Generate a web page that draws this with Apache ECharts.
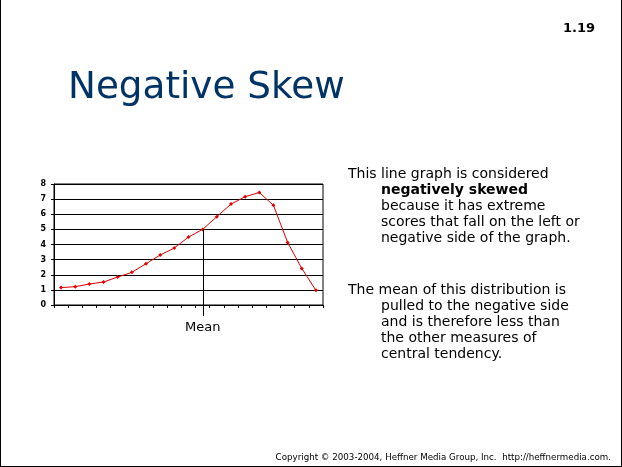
<!DOCTYPE html>
<html>
<head>
<meta charset="utf-8">
<script src="https://cdn.jsdelivr.net/npm/echarts@6/dist/echarts.min.js"></script>
<style>
html,body{margin:0;padding:0;background:#fff;}
#c{width:622px;height:467px;position:absolute;left:0;top:0;}
#frame{position:absolute;left:0;top:0;width:622px;height:467px;box-sizing:border-box;border-left:1px solid #000;border-right:1px solid #000;border-bottom:1px solid #000;pointer-events:none;}
</style>
</head>
<body>
<div id="c"></div>
<div id="frame"></div>
<script>
// ---- data ----
const categories = ['', '', '', '', '', '', '', '', '', '', 'Mean', '', '', '', '', '', '', '', ''];
const values = [1.15, 1.21, 1.39, 1.52, 1.85, 2.16, 2.73, 3.30, 3.77, 4.49, 5.0, 5.84, 6.67, 7.16, 7.44, 6.59, 4.14, 2.42, 0.97];
const yTicks = [0, 1, 2, 3, 4, 5, 6, 7, 8];
const meanIndex = 10;
const slideTitle = 'Negative Skew';
const slideNumber = '1.19';
const para1 = [
  {t: 'This line graph is considered', b: false, indent: false},
  {t: 'negatively skewed', b: true, indent: true},
  {t: 'because it has extreme', b: false, indent: true},
  {t: 'scores that fall on the left or', b: false, indent: true},
  {t: 'negative side of the graph.', b: false, indent: true}
];
const para2 = [
  {t: 'The mean of this distribution is', b: false, indent: false},
  {t: 'pulled to the negative side', b: false, indent: true},
  {t: 'and is therefore less than', b: false, indent: true},
  {t: 'the other measures of', b: false, indent: true},
  {t: 'central tendency.', b: false, indent: true}
];
const copyright = 'Copyright \u00a9 2003-2004, Heffner Media Group, Inc.  http://heffnermedia.com.';

const FONT = '"DejaVu Sans", Verdana, sans-serif';
const chart = echarts.init(document.getElementById('c'), null, {renderer: 'canvas'});

function paraGraphics(lines, x0, y0, idPrefix) {
  return lines.map((l, i) => ({
    type: 'text', id: idPrefix + i,
    x: l.indent ? x0 + 33 : x0,
    y: y0 + i * 16,
    style: {
      text: l.t, fill: '#000',
      font: (l.b ? 'bold ' : '') + '14px ' + FONT,
      textVerticalAlign: 'top'
    }
  }));
}

const option = {
  animation: false,
  backgroundColor: '#fff',
  grid: {left: 54, top: 184, width: 269, height: 121, show: true, borderColor: '#000', borderWidth: 1, backgroundColor: 'transparent'},
  xAxis: {
    type: 'category', data: categories, boundaryGap: true,
    axisLine: {lineStyle: {color: '#000', width: 1}},
    axisTick: {show: true, interval: 0, length: 3, lineStyle: {color: '#000'}},
    axisLabel: {interval: 0, margin: 16, color: '#000', fontSize: 13, fontFamily: FONT},
    splitLine: {show: false}
  },
  yAxis: {
    type: 'value', min: yTicks[0], max: yTicks[yTicks.length - 1], interval: 1,
    axisLine: {show: true, lineStyle: {color: '#000', width: 1}},
    axisTick: {show: true, length: 3, lineStyle: {color: '#000'}},
    axisLabel: {margin: 8, color: '#000', fontSize: 8, fontWeight: 'bold', fontFamily: FONT},
    splitLine: {show: true, lineStyle: {color: '#000', width: 1}}
  },
  series: [{
    type: 'line', data: values,
    lineStyle: {color: '#e00000', width: 1},
    itemStyle: {color: '#e00000'},
    symbol: 'diamond', symbolSize: 4, showSymbol: true
  }],
  graphic: [
    {type: 'text', id: 'title', x: 68, y: 70, style: {text: slideTitle, fill: '#003366', font: '37.3px ' + FONT, textVerticalAlign: 'top'}},
    {type: 'text', id: 'num', x: 595, y: 22, style: {text: slideNumber, fill: '#000', font: 'bold 13px ' + FONT, textAlign: 'right', textVerticalAlign: 'top'}},
    {type: 'text', id: 'copy', x: 611, y: 453, style: {text: copyright, fill: '#000', font: '8.7px ' + FONT, textAlign: 'right', textVerticalAlign: 'top'}}
  ].concat(paraGraphics(para1, 348, 167, 'p1_'), paraGraphics(para2, 348, 283, 'p2_'))
};
chart.setOption(option);

// mean marker line, computed through the chart's own scales
const pt = chart.convertToPixel({seriesIndex: 0}, [meanIndex, values[meanIndex]]);
const base = chart.convertToPixel({yAxisIndex: 0}, yTicks[0]);
const mx = Math.round(pt[0]) + 0.5;
chart.setOption({
  graphic: [{
    type: 'line', id: 'meanLine', z: 10,
    shape: {x1: mx, y1: pt[1], x2: mx, y2: base + 11},
    style: {stroke: '#000', lineWidth: 1}
  }]
});
</script>
</body>
</html>
